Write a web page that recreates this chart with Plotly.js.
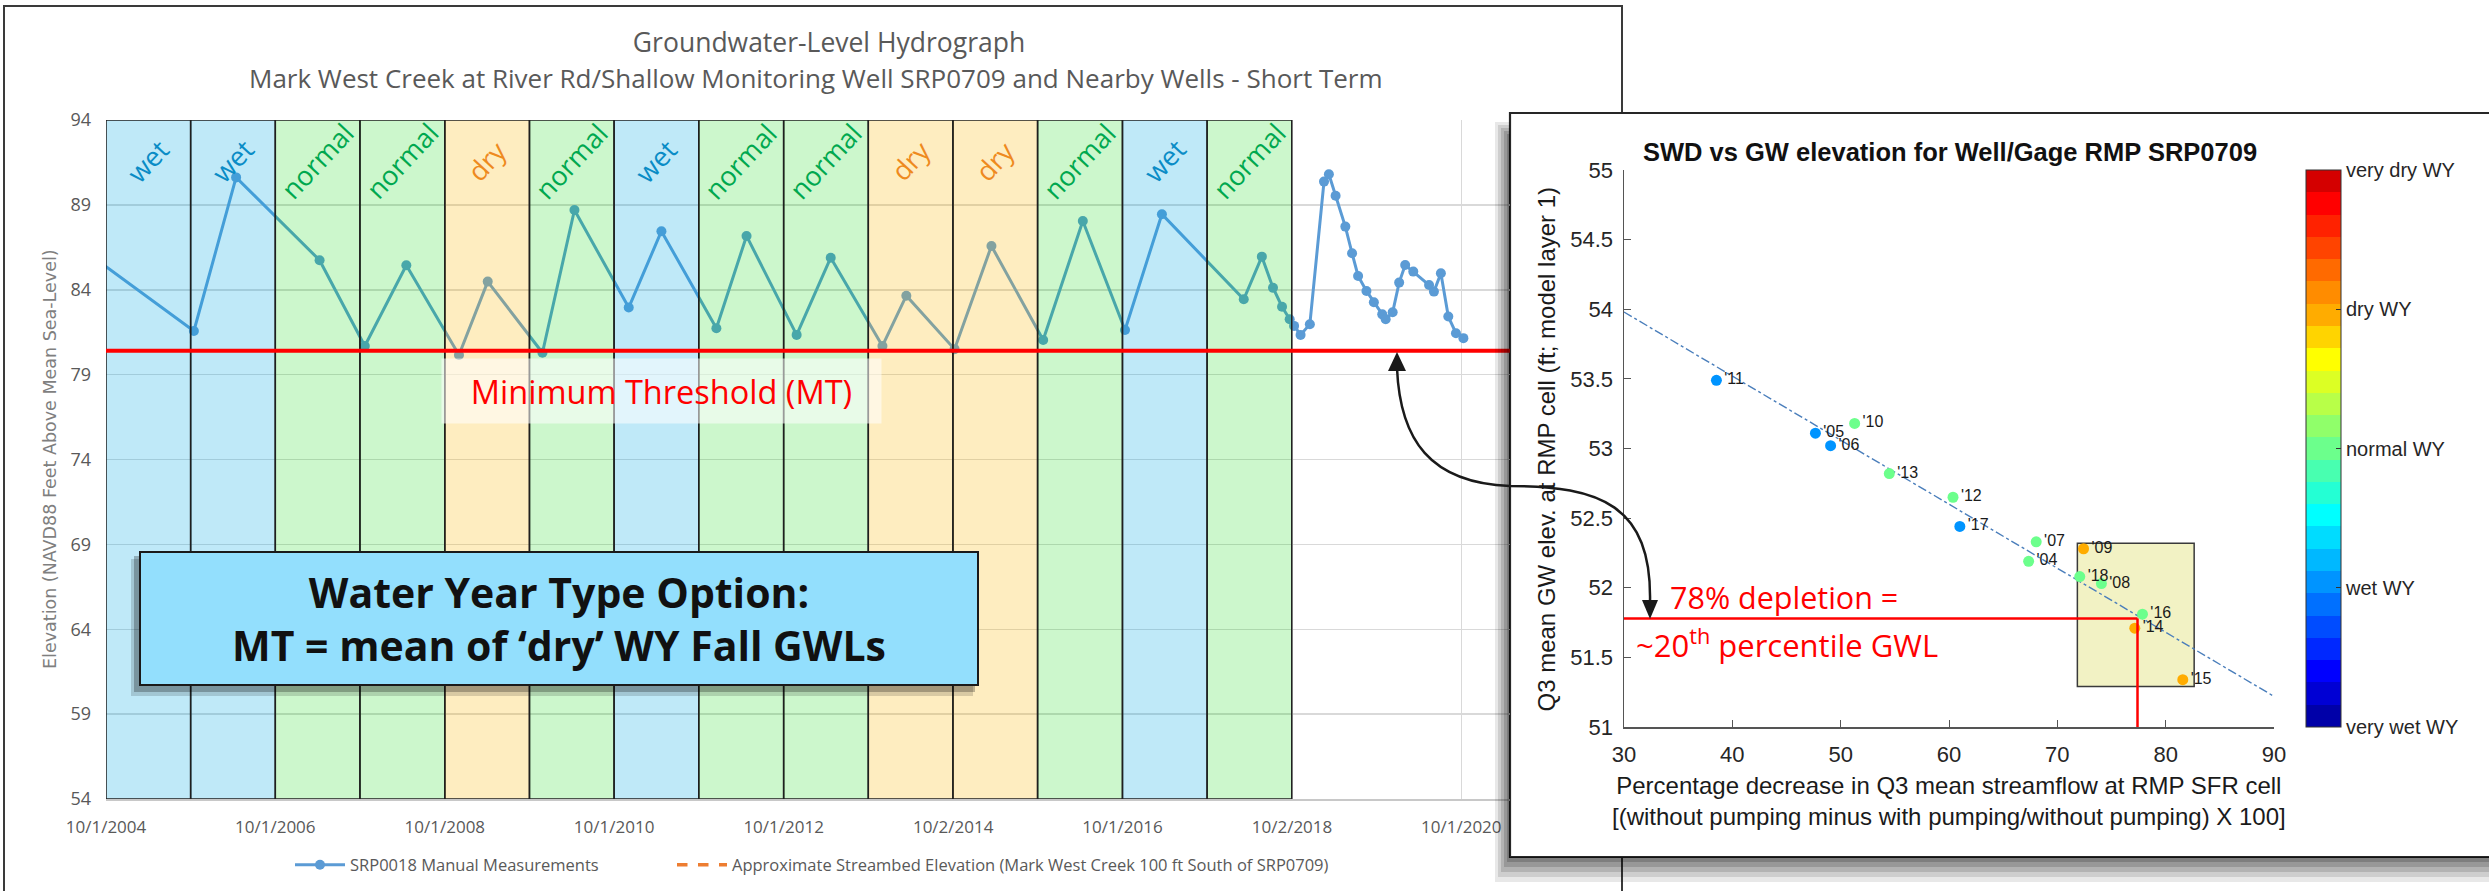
<!DOCTYPE html>
<html>
<head>
<meta charset="utf-8">
<script src="https://cdn.plot.ly/plotly-3.0.1.min.js"></script>
<style>html,body{margin:0;padding:0;background:#fff;}#chart{width:2489px;height:891px;}</style>
</head>
<body>
<div id="chart"></div>
<script>
// ---------------- DATA ----------------
const titleLine1 = 'Groundwater-Level Hydrograph';
const titleLine2 = 'Mark West Creek at River Rd/Shallow Monitoring Well SRP0709 and Nearby Wells - Short Term';
const yAxisTitle = 'Elevation (NAVD88 Feet Above Mean Sea-Level)';

const hydroDates = ['2004-04-01','2005-10-15','2006-04-15','2007-04-10','2007-10-22','2008-04-18','2008-12-01','2009-04-04','2009-11-26','2010-04-13','2010-12-03','2011-04-23','2011-12-16','2012-04-24','2012-11-26','2013-04-22','2013-12-01','2014-03-14','2014-10-08','2015-03-16','2015-10-25','2016-04-13','2016-10-12','2017-03-20','2018-03-08','2018-05-25','2018-07-12','2018-08-20','2018-09-22','2018-10-11','2018-11-08','2018-12-18','2019-02-17','2019-03-10','2019-04-08','2019-05-20','2019-06-18','2019-07-14','2019-08-19','2019-09-20','2019-10-26','2019-11-10','2019-12-10','2020-01-07','2020-02-02','2020-03-08','2020-05-15','2020-06-05','2020-07-05','2020-08-06','2020-09-08','2020-10-10'];
const hydroLevels = [87.19,81.57,90.62,85.74,80.69,85.44,80.16,84.48,80.29,88.70,82.95,87.45,81.73,87.17,81.34,85.89,80.69,83.65,80.50,86.58,81.04,88.05,81.63,88.45,83.44,85.95,84.12,83.00,82.26,81.87,81.34,81.97,90.37,90.80,89.54,87.72,86.15,84.81,83.93,83.26,82.55,82.26,82.67,84.42,85.46,85.07,84.28,83.89,84.97,82.42,81.44,81.15];

const waterYears = [2005,2006,2007,2008,2009,2010,2011,2012,2013,2014,2015,2016,2017,2018];
const waterYearTypes = ['wet','wet','normal','normal','dry','normal','wet','normal','normal','dry','dry','normal','wet','normal'];

const minimumThreshold = 80.41;

const xTickDates = ['2004-10-01','2006-10-01','2008-10-01','2010-10-01','2012-10-01','2014-10-02','2016-10-01','2018-10-02','2020-10-01'];
const xTickLabels = ['10/1/2004','10/1/2006','10/1/2008','10/1/2010','10/1/2012','10/2/2014','10/1/2016','10/2/2018','10/1/2020'];

const legendNames = ['SRP0018 Manual Measurements','Approximate Streambed Elevation (Mark West Creek 100 ft South of SRP0709)'];

// inset: SWD vs GW elevation
const swdLabels     = ["'04","'05","'06","'07","'08","'09","'10","'11","'12","'13","'14","'15","'16","'17","'18"];
const swdDepletion  = [67.35,47.67,49.07,68.05,74.07,72.42,51.29,38.53,60.37,54.49,77.15,81.58,77.86,61.00,72.07];
const swdGWElev     = [52.19,53.11,53.02,52.33,52.03,52.28,53.18,53.49,52.65,52.82,51.71,51.34,51.81,52.44,52.08];
const swdWYType     = ['normal','wet','wet','normal','normal','dry','normal','wet','normal','normal','dry','dry','normal','wet','normal'];
const fitDepletion  = [30, 90];
const fitGWElev     = [53.98, 51.22];
const boxDepletion  = [71.85, 82.63];
const boxGWElev     = [51.29, 52.32];
const depletionPct  = 77.4;
const depletionGWL  = 51.78;
const cbTickText    = ['very wet WY','wet WY','normal WY','dry WY','very dry WY'];
const wyTypeCode    = {wet: 1, normal: 2, dry: 3};
const jetSteps = ['#0000a8','#0000d4','#0000ff','#0028ff','#004cff','#0070ff','#0094ff','#00b8ff','#00dcff','#00ffff','#24ffd4','#48ffb0','#6cff8c','#90ff6a','#b8ff48','#dcff24','#ffff00','#ffd400','#ffac00','#ff8c00','#ff6a00','#ff4400','#ff2200','#ff0000','#d40000'];

// ---------------- STYLE / HELPERS ----------------
const W = 2489, H = 891;
const px = v => v / W;
const py = v => 1 - v / H;
const OPEN = 'Open Sans, sans-serif';
const ARIAL = 'Liberation Sans, Arial, sans-serif';
const bandFill = {wet: 'rgba(0,167,227,0.25)', normal: 'rgba(0,215,0,0.2)', dry: 'rgba(251,183,3,0.25)'};
const labelColor = {wet: '#0a8cc6', normal: '#00a84f', dry: '#ee8a1e'};

function dateAdd(d, days) {
  const t = new Date(d + 'T00:00:00Z'); t.setUTCDate(t.getUTCDate() + days);
  return t.toISOString().slice(0, 10);
}

const colorscale = [];
jetSteps.forEach((c, i) => { colorscale.push([i / jetSteps.length, c]); colorscale.push([(i + 1) / jetSteps.length, c]); });

// ---------------- TRACES ----------------
const traces = [
  {
    x: hydroDates, y: hydroLevels, type: 'scatter', mode: 'lines+markers',
    name: legendNames[0], xaxis: 'x', yaxis: 'y', legend: 'legend',
    line: {color: '#5b9bd5', width: 3}, marker: {color: '#5b9bd5', size: 10}
  },
  {
    x: [null], y: [null], type: 'scatter', mode: 'lines', name: legendNames[1],
    xaxis: 'x', yaxis: 'y', legend: 'legend2', line: {color: '#ed7d31', width: 3.5, dash: 'dash'}
  },
  {
    x: fitDepletion, y: fitGWElev, type: 'scatter', mode: 'lines', showlegend: false,
    xaxis: 'x2', yaxis: 'y2', line: {color: '#4a7ebb', width: 1.4, dash: 'dashdot'}
  },
  {
    x: swdDepletion, y: swdGWElev, text: swdLabels, type: 'scatter', mode: 'markers+text',
    showlegend: false, xaxis: 'x2', yaxis: 'y2', textposition: 'middle right',
    textfont: {family: ARIAL, size: 16, color: '#1a1a1a'},
    marker: {
      size: 11, color: swdWYType.map(t => wyTypeCode[t]), colorscale: colorscale,
      cmin: 0, cmax: 4, showscale: true,
      colorbar: {
        x: px(2306), xanchor: 'left', y: py(448.5), yanchor: 'middle',
        len: 557, lenmode: 'pixels', thickness: 35, thicknessmode: 'pixels',
        xpad: 0, ypad: 0, outlinewidth: 1, outlinecolor: '#333',
        tickvals: [0, 1, 2, 3, 4], ticktext: cbTickText, ticks: 'inside', ticklen: 5,
        tickcolor: '#333', tickfont: {family: ARIAL, size: 20, color: '#262626'}
      }
    }
  }
];

// ---------------- SHAPES ----------------
const shapes = [];
// main chart frame
shapes.push({type: 'rect', xref: 'paper', yref: 'paper', layer: 'below',
  x0: px(4), x1: px(1622), y0: py(6), y1: py(905), line: {color: '#3a3a3a', width: 2}, fillcolor: '#ffffff'});
// inset frame
shapes.push({type: 'rect', xref: 'paper', yref: 'paper', layer: 'below',
  x0: px(1510), x1: px(2500), y0: py(113), y1: py(857), line: {color: '#262626', width: 2.2}, fillcolor: '#ffffff'});
// inset highlight box
shapes.push({type: 'rect', xref: 'x2', yref: 'y2', layer: 'below',
  x0: boxDepletion[0], x1: boxDepletion[1], y0: boxGWElev[0], y1: boxGWElev[1],
  line: {color: '#3a3a3a', width: 1.5}, fillcolor: '#f2f2c4'});
// water-year bands
waterYears.forEach((wy, i) => {
  const t = waterYearTypes[i];
  shapes.push({type: 'rect', xref: 'x', yref: 'y', layer: 'above',
    x0: (wy - 1) + '-10-01', x1: wy + '-10-01', y0: 54, y1: 94,
    fillcolor: bandFill[t], line: {color: '#1f1f1f', width: 1.5}});
});
// minimum threshold line
shapes.push({type: 'line', xref: 'x domain', yref: 'y', layer: 'above', x0: 0, x1: 1,
  y0: minimumThreshold, y1: minimumThreshold, line: {color: '#ff0000', width: 4}});
// blue note box shadow
shapes.push({type: 'rect', xref: 'paper', yref: 'paper', layer: 'above',
  x0: px(131), x1: px(973), y0: py(559), y1: py(696), line: {width: 0}, fillcolor: 'rgba(0,0,0,0.15)'});
shapes.push({type: 'rect', xref: 'paper', yref: 'paper', layer: 'above',
  x0: px(134), x1: px(975), y0: py(556), y1: py(692), line: {width: 0}, fillcolor: 'rgba(0,0,0,0.25)'});
// inset drop shadow (left and bottom)
[[15, 25, 0.09], [12, 20, 0.11], [9, 15, 0.13], [6, 10, 0.15], [3, 5, 0.17]].forEach(([dl, db, a]) => {
  const x0 = 1510 - dl, yTop = 113 + 24 - dl, yB = 857 + db;
  const path = `M ${px(x0)},${py(yTop)} L ${px(1510)},${py(yTop)} L ${px(1510)},${py(857)} L ${px(2489)},${py(857)} L ${px(2489)},${py(yB)} L ${px(x0)},${py(yB)} Z`;
  shapes.push({type: 'path', xref: 'paper', yref: 'paper', layer: 'above', path: path,
    line: {width: 0}, fillcolor: `rgba(0,0,0,${a})`});
});
// depletion lines in inset
shapes.push({type: 'line', xref: 'x2', yref: 'y2', layer: 'above', x0: 30, x1: depletionPct,
  y0: depletionGWL, y1: depletionGWL, line: {color: '#ff0000', width: 2.5}});
shapes.push({type: 'line', xref: 'x2', yref: 'y2', layer: 'above', x0: depletionPct, x1: depletionPct,
  y0: depletionGWL, y1: 51, line: {color: '#ff0000', width: 2.5}});
// curved double arrow
const P = (x, y) => `${px(x)},${py(y)}`;
shapes.push({type: 'path', xref: 'paper', yref: 'paper', layer: 'above',
  path: `M ${P(1397,368)} C ${P(1400,440)} ${P(1430,483)} ${P(1510,486)} C ${P(1600,486)} ${P(1652,505)} ${P(1650,602)}`,
  line: {color: '#1a1a1a', width: 2.5}});
shapes.push({type: 'path', xref: 'paper', yref: 'paper', layer: 'above',
  path: `M ${P(1397,352)} L ${P(1388,371)} L ${P(1406,371)} Z`, line: {width: 0}, fillcolor: '#1a1a1a'});
shapes.push({type: 'path', xref: 'paper', yref: 'paper', layer: 'above',
  path: `M ${P(1650,619)} L ${P(1642,600)} L ${P(1658,600)} Z`, line: {width: 0}, fillcolor: '#1a1a1a'});

// ---------------- ANNOTATIONS ----------------
const annotations = [];
annotations.push({xref: 'paper', yref: 'paper', x: px(816), y: py(78), text: titleLine2, showarrow: false,
  xanchor: 'center', yanchor: 'middle', font: {family: OPEN, size: 26, color: '#595959'}});
annotations.push({xref: 'paper', yref: 'paper', x: px(50), y: py(459), text: yAxisTitle, showarrow: false,
  textangle: -90, xanchor: 'center', yanchor: 'middle', font: {family: 'DejaVu Sans, sans-serif', size: 17.5, color: '#7f7f7f'}});
waterYears.forEach((wy, i) => {
  const t = waterYearTypes[i];
  annotations.push({xref: 'x', yref: 'paper', x: dateAdd((wy - 1) + '-10-01', 182), y: py(161),
    text: t, showarrow: false, textangle: -47, xanchor: 'center', yanchor: 'middle',
    font: {family: OPEN, size: 27, color: labelColor[t]}});
});
annotations.push({xref: 'paper', yref: 'paper', x: px(661.5), y: py(391), text: 'Minimum Threshold (MT)',
  showarrow: false, width: 439, height: 64, borderpad: 0, bgcolor: 'rgba(255,255,255,0.55)',
  xanchor: 'center', yanchor: 'middle', font: {family: OPEN, size: 32.5, color: '#ff0000'}});
annotations.push({xref: 'paper', yref: 'paper', x: px(559), y: py(618.5),
  text: '<b>Water Year Type Option:</b><br><b>MT = mean of \u2018dry\u2019 WY Fall GWLs</b>',
  showarrow: false, width: 836, height: 131, borderpad: 0, borderwidth: 2, bordercolor: '#1a1a1a',
  bgcolor: '#93dffd', xanchor: 'center', yanchor: 'middle', align: 'center',
  font: {family: OPEN, size: 41, color: '#111111'}});
// inset texts
annotations.push({xref: 'paper', yref: 'paper', x: px(1950), y: py(152),
  text: '<b>SWD vs GW elevation for Well/Gage RMP SRP0709</b>', showarrow: false,
  xanchor: 'center', yanchor: 'middle', font: {family: ARIAL, size: 25.5, color: '#111111'}});
annotations.push({xref: 'paper', yref: 'paper', x: px(1546), y: py(449.5),
  text: 'Q3 mean GW elev. at RMP cell (ft; model layer 1)', showarrow: false, textangle: -90,
  xanchor: 'center', yanchor: 'middle', font: {family: ARIAL, size: 24, color: '#1a1a1a'}});
annotations.push({xref: 'paper', yref: 'paper', x: px(1949), y: py(801),
  text: 'Percentage decrease in Q3 mean streamflow at RMP SFR cell<br>[(without pumping minus with pumping/without pumping) X 100]',
  showarrow: false, xanchor: 'center', yanchor: 'middle', align: 'center',
  font: {family: ARIAL, size: 24, color: '#1a1a1a'}});
annotations.push({xref: 'paper', yref: 'paper', x: px(1668), y: py(597), text: '78% depletion =',
  showarrow: false, xanchor: 'left', yanchor: 'middle', font: {family: OPEN, size: 30.5, color: '#ff0000'}});
annotations.push({xref: 'paper', yref: 'paper', x: px(1634), y: py(643), text: '~20<sup>th</sup> percentile GWL',
  showarrow: false, xanchor: 'left', yanchor: 'middle', font: {family: OPEN, size: 31, color: '#ff0000'}});

// ---------------- LAYOUT ----------------
const legendFont = {family: OPEN, size: 16.5, color: '#595959'};
const layout = {
  width: W, height: H, margin: {l: 0, r: 0, t: 0, b: 0, pad: 0},
  paper_bgcolor: '#ffffff', plot_bgcolor: 'rgba(0,0,0,0)',
  title: {text: titleLine1, x: px(829), xanchor: 'center', xref: 'paper', y: py(43), yref: 'container', yanchor: 'middle',
    font: {family: OPEN, size: 26.5, color: '#595959'}},
  showlegend: true,
  legend: {orientation: 'h', x: px(290), y: py(865), xanchor: 'left', yanchor: 'middle',
    font: legendFont, bgcolor: 'rgba(0,0,0,0)', itemwidth: 50},
  legend2: {orientation: 'h', x: px(672), y: py(865), xanchor: 'left', yanchor: 'middle',
    font: legendFont, bgcolor: 'rgba(0,0,0,0)', itemwidth: 50},
  xaxis: {type: 'date', domain: [px(106), px(1510)], range: ['2004-10-01', '2021-04-29'],
    tickvals: xTickDates, ticktext: xTickLabels, showgrid: true, gridcolor: '#d9d9d9', gridwidth: 1.5,
    showline: true, linecolor: '#c8c8c8', linewidth: 2, zeroline: false, ticks: '',
    ticklabelstandoff: 12, tickfont: {family: OPEN, size: 17, color: '#595959'}, anchor: 'y', fixedrange: true},
  yaxis: {domain: [py(799), py(120)], range: [54, 94], tick0: 54, dtick: 5, showgrid: true,
    gridcolor: '#d9d9d9', gridwidth: 1.5, zeroline: false, showline: false, ticks: '',
    ticklabelstandoff: 14, tickfont: {family: OPEN, size: 18, color: '#595959'}, anchor: 'x', fixedrange: true},
  xaxis2: {domain: [px(1624), px(2274)], range: [30, 90], dtick: 10, anchor: 'y2',
    showgrid: false, zeroline: false, showline: true, linecolor: '#555555', linewidth: 1.5,
    ticks: 'inside', ticklen: 7, tickcolor: '#555555', ticklabelstandoff: 7,
    tickfont: {family: ARIAL, size: 22, color: '#262626'}, fixedrange: true},
  yaxis2: {domain: [py(727), py(170)], range: [51, 55], dtick: 0.5, anchor: 'x2',
    showgrid: false, zeroline: false, showline: true, linecolor: '#555555', linewidth: 1.5,
    ticks: 'inside', ticklen: 7, tickcolor: '#555555', ticklabelstandoff: 5,
    tickfont: {family: ARIAL, size: 22, color: '#262626'}, fixedrange: true},
  shapes: shapes,
  annotations: annotations,
  hovermode: false
};

Plotly.newPlot('chart', traces, layout, {staticPlot: true, displayModeBar: false});
</script>
</body>
</html>
